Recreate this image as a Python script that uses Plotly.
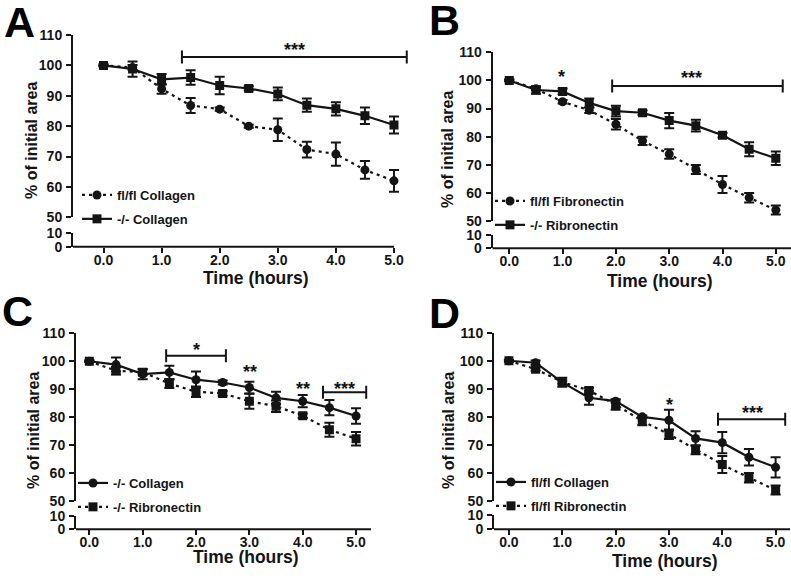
import plotly.graph_objects as go

# ---------------- data ----------------
time_h = [0.0, 0.5, 1.0, 1.5, 2.0, 2.5, 3.0, 3.5, 4.0, 4.5, 5.0]

flfl_collagen = [100.0, 99.3, 92.3, 86.8, 85.6, 80.0, 78.8, 72.3, 70.8, 65.6, 62.0]
flfl_collagen_err = [0.3, 0.8, 1.6, 2.5, 0.5, 0.5, 3.7, 2.6, 3.8, 2.9, 3.6]

ko_collagen = [100.0, 98.8, 95.4, 96.0, 93.4, 92.4, 90.6, 86.9, 85.7, 83.4, 80.4]
ko_collagen_err = [0.3, 2.5, 1.8, 2.4, 2.9, 0.7, 2.1, 2.2, 2.2, 2.7, 2.8]

flfl_fibronectin = [100.0, 97.0, 92.4, 89.4, 84.4, 78.5, 73.8, 68.3, 63.0, 58.3, 53.9]
flfl_fibronectin_err = [0.3, 0.5, 0.6, 1.0, 1.9, 1.5, 1.7, 1.6, 3.0, 1.7, 1.6]

ko_ribronectin = [100.0, 96.6, 96.1, 92.0, 89.1, 88.5, 85.7, 83.9, 80.5, 75.5, 72.3]
ko_ribronectin_err = [0.3, 1.3, 1.0, 1.6, 1.9, 0.8, 2.7, 2.1, 0.8, 2.5, 2.4]

x_tick_values = [0, 1, 2, 3, 4, 5]
y_upper_ticks = [50, 60, 70, 80, 90, 100, 110]
y_lower_ticks = [0, 10]

# significance brackets (x from, x to, y) and star labels (text, x, y)
sig_bars = {
    "A": [(1.35, 5.22, 102.8)],
    "B": [(1.93, 5.13, 98.0)],
    "C": [(1.44, 2.56, 102.0), (4.38, 5.19, 88.9)],
    "D": [(3.92, 5.18, 79.1)],
}
sig_text = {
    "A": [("***", 3.28, 106.7)],
    "B": [("*", 0.98, 103.0), ("***", 3.42, 102.7)],
    "C": [("*", 2.0, 105.8), ("**", 3.01, 98.1), ("**", 4.01, 91.8), ("***", 4.78, 91.8)],
    "D": [("*", 3.01, 86.0), ("***", 4.56, 83.0)],
}

# series per panel: (name, values, errors, marker symbol, dash)
panel_series = {
    "A": [("fl/fl Collagen", flfl_collagen, flfl_collagen_err, "circle", "dot"),
          ("-/- Collagen", ko_collagen, ko_collagen_err, "square", "solid")],
    "B": [("fl/fl Fibronectin", flfl_fibronectin, flfl_fibronectin_err, "circle", "dot"),
          ("-/- Ribronectin", ko_ribronectin, ko_ribronectin_err, "square", "solid")],
    "C": [("-/- Collagen", ko_collagen, ko_collagen_err, "circle", "solid"),
          ("-/- Ribronectin", ko_ribronectin, ko_ribronectin_err, "square", "dot")],
    "D": [("fl/fl Collagen", flfl_collagen, flfl_collagen_err, "circle", "solid"),
          ("fl/fl Ribronectin", flfl_fibronectin, flfl_fibronectin_err, "square", "dot")],
}

# ---------------- geometry / style ----------------
W, H = 791, 578
FONT = "Liberation Sans, Arial, Helvetica, sans-serif"
INK = "#141414"

geom = {
    "A": dict(x_px=(73, 408.5), axis_end=394, up=(35, 217.3), low=(233, 246.7), xr=(-0.525, 5.25),
              letter=(19, 22), ytitle=(32, 141), xtitle=(256, 278), legend=(77, 207)),
    "B": dict(x_px=(492.7, 791), axis_end=791, up=(52.3, 221), low=(235, 248.3), xr=(-0.311, 5.285),
              letter=(444, 20), ytitle=(447, 150), xtitle=(660, 281), legend=(490, 213)),
    "C": dict(x_px=(76, 371), axis_end=371, up=(333.3, 501), low=(515.7, 529.3), xr=(-0.25, 5.28),
              letter=(17, 311), ytitle=(33, 431), xtitle=(245.5, 557), legend=(73, 495)),
    "D": dict(x_px=(494, 790), axis_end=790, up=(332.7, 501), low=(515, 529.3), xr=(-0.28, 5.27),
              letter=(444, 313), ytitle=(448, 431), xtitle=(665, 561), legend=(491, 494)),
}


def px_x(v):
    return v / W


def px_y(v):
    return 1 - v / H


fig = go.Figure()
layout = dict(
    width=W, height=H, autosize=False,
    margin=dict(l=0, r=0, t=0, b=0, autoexpand=False),
    paper_bgcolor="white", plot_bgcolor="white",
    showlegend=True,
    font=dict(family=FONT, color=INK, size=14),
)
shapes = []
annotations = []

tickfont = dict(family=FONT, size=14, color=INK, weight="bold")

for i, key in enumerate(["A", "B", "C", "D"]):
    g = geom[key]
    xn = "" if i == 0 else str(i + 1)
    yu = "" if i == 0 else str(2 * i + 1)
    yl = str(2 * i + 2)
    xref, yuref, ylref = "x" + xn, "y" + yu, "y" + yl
    legname = "legend" if i == 0 else "legend" + str(i + 1)

    xdom = [px_x(g["x_px"][0]), px_x(g["x_px"][1])]
    layout["xaxis" + xn] = dict(
        domain=xdom, anchor=ylref, range=list(g["xr"]),
        tickvals=x_tick_values, tickformat=".1f",
        ticks="outside", ticklen=5, tickwidth=2, tickcolor=INK,
        showline=False, showgrid=False, zeroline=False, automargin=False,
        tickfont=tickfont, fixedrange=True, ticklabelstandoff=-5,
    )
    layout["yaxis" + yu] = dict(
        domain=[px_y(g["up"][1]), px_y(g["up"][0])], anchor=xref, range=[50, 110],
        tickvals=y_upper_ticks, ticks="outside", ticklen=5, tickwidth=2, tickcolor=INK,
        showline=True, linewidth=2, linecolor=INK, showgrid=False, zeroline=False,
        automargin=False, tickfont=tickfont, ticklabelstandoff=1,
    )
    layout["yaxis" + yl] = dict(
        domain=[px_y(g["low"][1]), px_y(g["low"][0])], anchor=xref, range=[0, 10],
        tickvals=y_lower_ticks, ticks="outside", ticklen=5, tickwidth=2, tickcolor=INK,
        showline=True, linewidth=2, linecolor=INK, showgrid=False, zeroline=False,
        automargin=False, tickfont=tickfont, ticklabelstandoff=1,
    )
    # x axis line (ends at the last tick)
    shapes.append(dict(type="line", xref="paper", yref="paper",
                       x0=px_x(g["x_px"][0]), x1=px_x(g["axis_end"]),
                       y0=px_y(g["low"][1]), y1=px_y(g["low"][1]),
                       line=dict(color=INK, width=2)))

    # empty trace so the lower (broken) segment is a real subplot
    fig.add_trace(go.Scatter(x=[None], y=[None], xaxis=xref, yaxis=ylref, mode="markers",
                             showlegend=False, hoverinfo="skip"))

    for j, (name, vals, errs, sym, dash) in enumerate(panel_series[key]):
        fig.add_trace(go.Scatter(
            x=time_h, y=vals, name=name, mode="lines+markers",
            xaxis=xref, yaxis=yuref, legend=legname, legendgroup=key + str(j),
            line=dict(color=INK, width=2.2, dash="3px,4px" if dash == "dot" else "solid"),
            marker=dict(symbol=sym, size=9, color=INK, line=dict(width=0)),
            error_y=dict(type="data", array=errs, visible=True, thickness=2, width=5, color=INK),
        ))

    layout[legname] = dict(
        x=px_x(g["legend"][0]), y=px_y(g["legend"][1]), xanchor="left", yanchor="middle",
        bgcolor="rgba(0,0,0,0)", borderwidth=0,
        font=dict(family=FONT, size=13, color=INK, weight="bold"),
        traceorder="grouped", tracegroupgap=4, itemwidth=30,
    )

    for (a, b, yv) in sig_bars[key]:
        shapes.append(dict(type="line", xref=xref, yref=yuref, x0=a, x1=b, y0=yv, y1=yv,
                           line=dict(color=INK, width=2)))
        for xe in (a, b):
            shapes.append(dict(type="line", xref=xref, yref=yuref, ysizemode="pixel", yanchor=yv,
                               x0=xe, x1=xe, y0=-6.5, y1=6.5, line=dict(color=INK, width=2)))
    for (t, xv, yv) in sig_text[key]:
        annotations.append(dict(text=t, x=xv, y=yv, xref=xref, yref=yuref, showarrow=False,
                                yshift=-5, font=dict(family=FONT, size=18, color=INK, weight="bold")))

    # panel letter and axis titles
    annotations.append(dict(text=key, x=px_x(g["letter"][0]), y=px_y(g["letter"][1]),
                            xref="paper", yref="paper", showarrow=False,
                            xanchor="center", yanchor="middle",
                            font=dict(family=FONT, size=43, color="black", weight="bold")))
    annotations.append(dict(text="% of initial area", x=px_x(g["ytitle"][0]), y=px_y(g["ytitle"][1]),
                            xref="paper", yref="paper", showarrow=False, textangle=-90,
                            xanchor="center", yanchor="middle",
                            font=dict(family=FONT, size=16, color=INK, weight="bold")))
    annotations.append(dict(text="Time (hours)", x=px_x(g["xtitle"][0]), y=px_y(g["xtitle"][1]),
                            xref="paper", yref="paper", showarrow=False,
                            xanchor="center", yanchor="middle",
                            font=dict(family=FONT, size=17.5, color=INK, weight="bold")))

layout["shapes"] = shapes
layout["annotations"] = annotations
fig.update_layout(**layout)
fig.write_html(
    "out.html",
    config={"displayModeBar": False},
    post_script="document.body.style.margin='0';document.body.style.overflow='hidden';",
)
